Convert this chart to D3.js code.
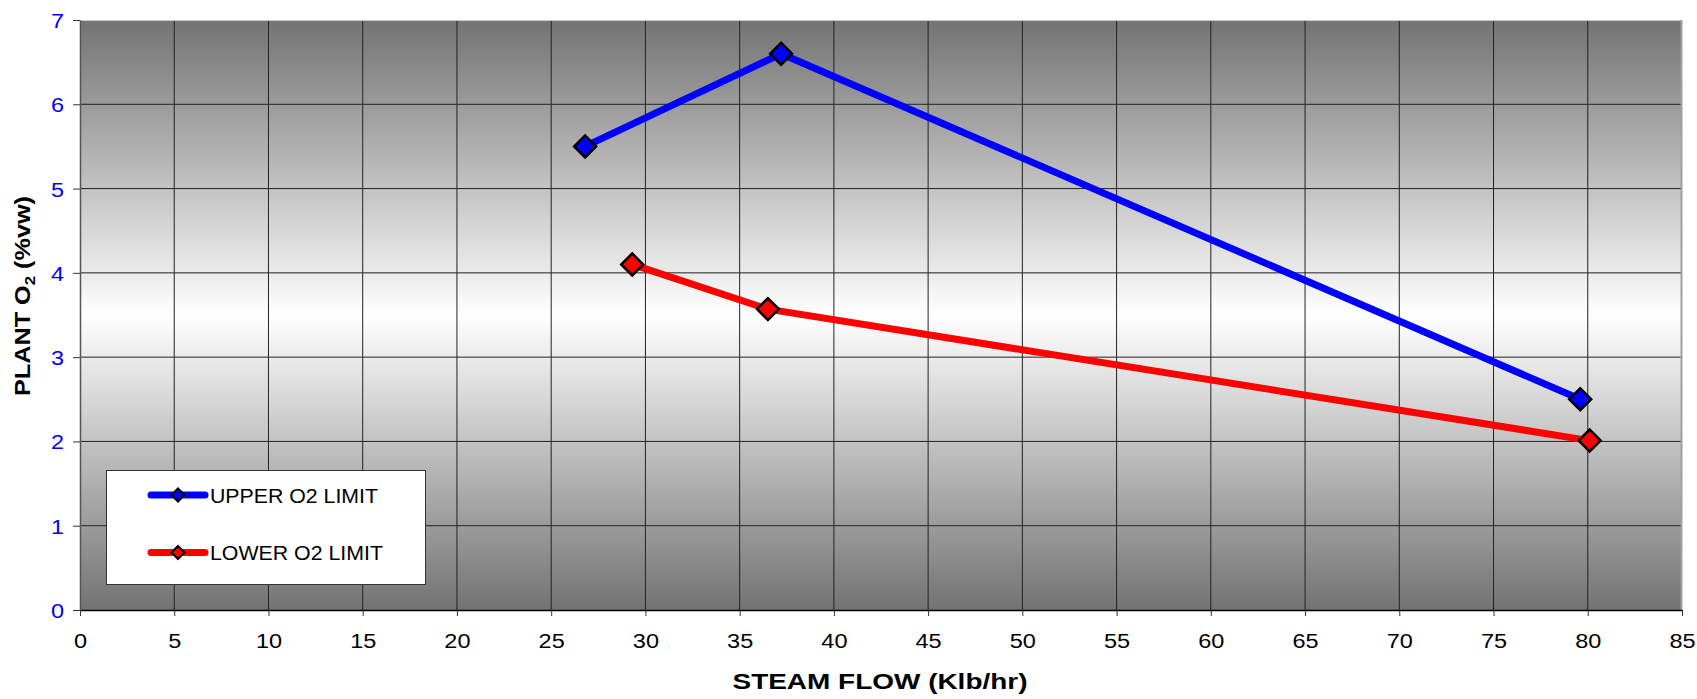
<!DOCTYPE html>
<html><head><meta charset="utf-8">
<script src="https://cdn.jsdelivr.net/npm/d3@7"></script>
<style>body{margin:0;background:#fff}svg{display:block}</style>
</head><body>
<svg id="c" width="1697" height="699"></svg>
<script>
const upperX = [26.8, 37.2, 79.6];
const upperY = [5.5, 6.6, 2.5];
const lowerX = [29.3, 36.5, 80.1];
const lowerY = [4.1, 3.57, 2.01];
const xTicks = [0,5,10,15,20,25,30,35,40,45,50,55,60,65,70,75,80,85];
const yTicks = [0,1,2,3,4,5,6,7];
const seriesNames = ["UPPER O2 LIMIT", "LOWER O2 LIMIT"];
const seriesColors = ["#0000ff", "#ff0000"];

const FONT = "Liberation Sans, Arial, sans-serif";
const SX = 1.12;
const svg = d3.select("#c");
const L = 80, R = 1682, T = 20, B = 610;
const x = d3.scaleLinear().domain([0,85]).range([L,R]);
const y = d3.scaleLinear().domain([0,7]).range([B,T]);

const defs = svg.append("defs");
const g = defs.append("linearGradient").attr("id","bg").attr("x1",0).attr("y1",0).attr("x2",0).attr("y2",1);
g.append("stop").attr("offset","0%").attr("stop-color","#737373");
g.append("stop").attr("offset","50%").attr("stop-color","#ffffff");
g.append("stop").attr("offset","100%").attr("stop-color","#737373");

svg.append("rect").attr("x",L).attr("y",T).attr("width",R-L).attr("height",B-T).attr("fill","url(#bg)");

// gridlines
svg.append("g").selectAll("line").data(xTicks.filter(d=>d>0&&d<85)).join("line")
  .attr("x1",d=>x(d)).attr("x2",d=>x(d)).attr("y1",T).attr("y2",B)
  .attr("stroke","#222").attr("stroke-width",1);
svg.append("g").selectAll("line").data(yTicks.filter(d=>d>0&&d<7)).join("line")
  .attr("x1",L).attr("x2",R).attr("y1",d=>y(d)).attr("y2",d=>y(d))
  .attr("stroke","#222").attr("stroke-width",1);
// border top/right
svg.append("line").attr("x1",L).attr("x2",R).attr("y1",T+0.5).attr("y2",T+0.5).attr("stroke","#c8c8c8");
svg.append("line").attr("x1",R-0.5).attr("x2",R-0.5).attr("y1",T).attr("y2",B).attr("stroke","#a0a0a0").attr("stroke-width",2);

// axes
const xa = svg.append("g").attr("transform",`translate(0,${B})`)
  .call(d3.axisBottom(x).tickValues(xTicks).tickFormat(d3.format("d")).tickSize(6).tickSizeOuter(0));
xa.select(".domain").attr("stroke","#000").attr("stroke-width",1.5);
xa.selectAll(".tick line").attr("stroke","#333");
xa.selectAll("text").attr("font-family",FONT).attr("font-size",21).attr("fill","#000")
  .attr("y",38).attr("dy",0).attr("transform",`scale(${SX},1)`);

const ya = svg.append("g").attr("transform",`translate(${L},0)`)
  .call(d3.axisLeft(y).tickValues(yTicks).tickFormat(d3.format("d")).tickSize(7).tickSizeOuter(0));
ya.select(".domain").attr("stroke","#555").attr("stroke-width",1.5);
ya.selectAll(".tick line").attr("stroke","#333");
ya.selectAll("text").attr("font-family",FONT).attr("font-size",21).attr("fill","#0000ff")
  .attr("x",-16/SX).attr("dy","0.36em").attr("transform",`scale(${SX},1)`);

// axis titles
svg.append("text").attr("x",880).attr("y",689).attr("text-anchor","middle")
  .attr("font-family",FONT).attr("font-size",22.5).attr("font-weight","bold")
  .attr("textLength",295).attr("lengthAdjust","spacingAndGlyphs")
  .text("STEAM FLOW (Klb/hr)");
const yt = svg.append("text").attr("transform",`translate(30,${296}) rotate(-90)`).attr("x",-100)
  .attr("font-family",FONT).attr("font-size",22.5).attr("font-weight","bold")
  .attr("textLength",200).attr("lengthAdjust","spacingAndGlyphs");
yt.append("tspan").text("PLANT O");
yt.append("tspan").attr("font-size",15).attr("dy",5).text("2");
yt.append("tspan").attr("dy",-5).text(" (%vw)");

// series
const series = [
  {xs: upperX, ys: upperY},
  {xs: lowerX, ys: lowerY}
];
const line = d3.line().x(d=>x(d[0])).y(d=>y(d[1]));
series.forEach((s,i)=>{
  const pts = s.xs.map((v,j)=>[v,s.ys[j]]);
  svg.append("path").datum(pts).attr("d",line).attr("fill","none")
    .attr("stroke",seriesColors[i]).attr("stroke-width",7).attr("stroke-linejoin","round");
  svg.append("g").selectAll("path").data(pts).join("path")
    .attr("transform",d=>`translate(${x(d[0])},${y(d[1])}) rotate(45)`)
    .attr("d",d3.symbol().type(d3.symbolSquare).size(240))
    .attr("fill",seriesColors[i]).attr("stroke","#000").attr("stroke-width",2.5);
});

// legend
const lg = svg.append("g");
lg.append("rect").attr("x",106.5).attr("y",470.5).attr("width",319).attr("height",114)
  .attr("fill","#fff").attr("stroke","#333").attr("stroke-width",1);
seriesNames.forEach((n,i)=>{
  const yy = 495 + i*57.5;
  lg.append("line").attr("x1",151).attr("x2",205).attr("y1",yy).attr("y2",yy)
    .attr("stroke",seriesColors[i]).attr("stroke-width",7).attr("stroke-linecap","round");
  lg.append("path").attr("transform",`translate(178,${yy}) rotate(45)`)
    .attr("d",d3.symbol().type(d3.symbolSquare).size(85))
    .attr("fill",seriesColors[i]).attr("stroke","#000").attr("stroke-width",2);
  lg.append("text").attr("x",210).attr("y",yy+7.5).attr("font-family",FONT)
    .attr("font-size",19.5).attr("fill","#000")
    .attr("textLength", i===0 ? 168 : 173).attr("lengthAdjust","spacingAndGlyphs").text(n);
});
</script>
</body></html>
